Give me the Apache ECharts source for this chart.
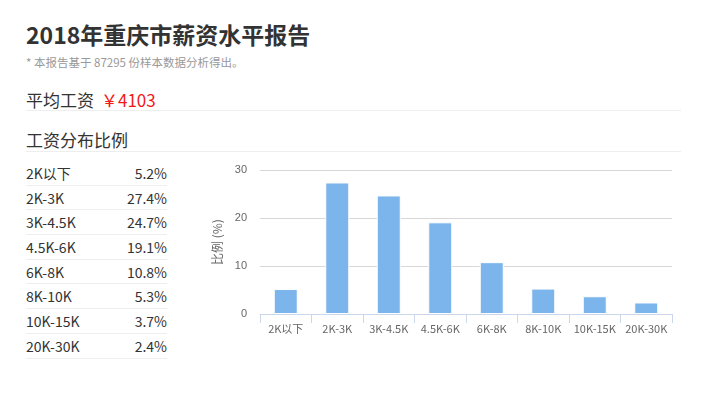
<!DOCTYPE html>
<html><head><meta charset="utf-8">
<script src="https://cdn.jsdelivr.net/npm/echarts@6/dist/echarts.min.js"></script>
<style>
html,body{margin:0;padding:0;background:#fff;width:720px;height:406px;overflow:hidden;font-family:"Noto Sans CJK SC","Noto Sans",sans-serif;color:#333;}
.abs{position:absolute;white-space:nowrap;}
#title{left:26px;top:22px;font-size:23px;line-height:25px;font-weight:bold;color:#333;}
#sub{left:26px;top:54px;font-size:11.5px;line-height:16px;color:#999;}
#avg{left:26px;top:89px;font-size:17px;line-height:22px;color:#333;}
#avg span{color:#f21818;margin-left:7px;}
#dist{left:26px;top:129px;font-size:17px;line-height:22px;color:#333;}
.hr{position:absolute;left:26px;width:655px;height:1px;background:#eee;}
#tbl{position:absolute;left:26px;top:161px;width:141px;}
.row{height:23.7px;border-bottom:1px solid #eee;display:flex;justify-content:space-between;align-items:center;font-size:14px;line-height:16px;color:#333;}
#chart{position:absolute;left:200px;top:150px;width:500px;height:200px;}
</style></head>
<body>
<div id="title" class="abs">2018年重庆市薪资水平报告</div>
<div id="sub" class="abs">* 本报告基于 87295 份样本数据分析得出。</div>
<div id="avg" class="abs">平均工资<span id="avgval"></span></div>
<div class="hr" style="top:110px"></div>
<div id="dist" class="abs">工资分布比例</div>
<div class="hr" style="top:151px"></div>
<div id="tbl"></div>
<div id="chart"></div>
<script>
const sampleCount = 87295;
const avgSalary = 4103;
const categories = ["2K以下","2K-3K","3K-4.5K","4.5K-6K","6K-8K","8K-10K","10K-15K","20K-30K"];
const percents = [5.2, 27.4, 24.7, 19.1, 10.8, 5.3, 3.7, 2.4];
const yTicks = [0, 10, 20, 30];

document.getElementById('avgval').textContent = '￥' + avgSalary;
const tbl = document.getElementById('tbl');
categories.forEach((c, i) => {
  const r = document.createElement('div');
  r.className = 'row';
  const a = document.createElement('span'); a.textContent = c;
  const b = document.createElement('span'); b.textContent = percents[i] + '%';
  r.appendChild(a); r.appendChild(b); tbl.appendChild(r);
});

const chart = echarts.init(document.getElementById('chart'), null, {renderer:'canvas'});
chart.setOption({
  animation:false,
  grid:{left:60, right:28, top:20, bottom:36},
  xAxis:{
    type:'category', data:categories,
    axisLine:{lineStyle:{color:'#ccd6eb'}},
    axisTick:{show:true, length:9, lineStyle:{color:'#ccd6eb'}},
    axisLabel:{color:'#666', fontSize:11, margin:9, interval:0, fontFamily:'"Noto Sans CJK SC","Noto Sans",sans-serif'}
  },
  yAxis:{
    type:'value', min:yTicks[0], max:yTicks[yTicks.length-1], interval:10,
    name:'比例 (%)', nameLocation:'middle', nameGap:34, nameRotate:90,
    nameTextStyle:{color:'#666', fontSize:12, fontFamily:'"Noto Sans CJK SC",sans-serif'},
    axisLine:{show:false}, axisTick:{show:false},
    axisLabel:{color:'#666', fontSize:11, margin:13},
    splitLine:{lineStyle:{color:'#d8d8d8'}}
  },
  series:[{
    type:'bar', data:percents, barWidth:24,
    itemStyle:{color:'#7cb5ec', borderColor:'#fff', borderWidth:1}
  }]
});
</script>
</body></html>
